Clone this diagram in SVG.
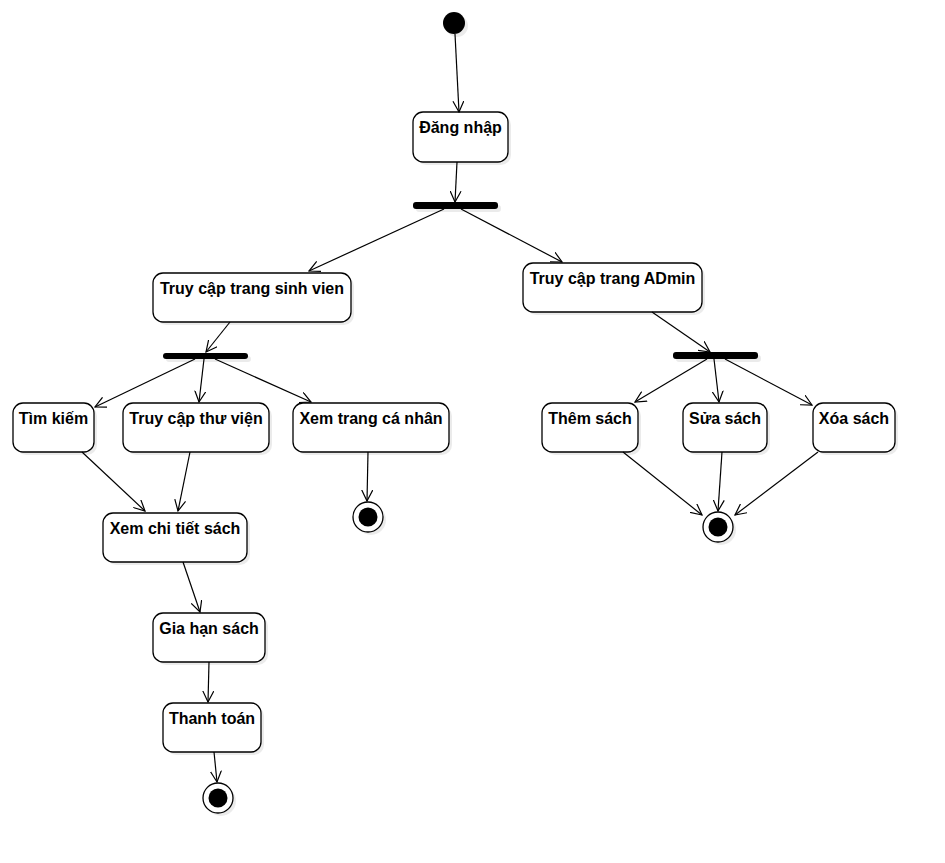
<svg xmlns="http://www.w3.org/2000/svg" width="945" height="863" viewBox="0 0 945 863">
<style>
.box{fill:#fff;stroke:#000;stroke-width:1.3}
.sh{fill:#000;opacity:0.08}
.bar{fill:#000}
.lbl{font-family:"Liberation Sans",Arial,sans-serif;font-weight:bold;font-size:16px;fill:#000;text-anchor:middle}
.edge{fill:none;stroke:#000;stroke-width:1.2;marker-end:url(#arr)}
</style>
<defs>
<marker id="arr" viewBox="0 0 12 12" refX="11" refY="6" markerWidth="12" markerHeight="12" markerUnits="userSpaceOnUse" orient="auto">
<path d="M0,0.5 L11,6 L0,11.5" fill="none" stroke="#000" stroke-width="1.2"/>
</marker>
</defs>
<rect width="945" height="863" fill="#fff"/>

<g id="start">
<circle class="sh" cx="457" cy="26" r="11"/>
<circle cx="454" cy="23" r="11" fill="#000"/>
</g>
<g id="dangnhap">
<rect class="sh" x="416" y="115" width="95" height="50" rx="10"/>
<rect class="box" x="413" y="112" width="95" height="50" rx="10"/>
<text class="lbl" x="460.5" y="133">Đăng nhập</text>
</g>
<g id="fork1">
<rect class="sh" x="416" y="205" width="85" height="7" rx="3"/>
<rect class="bar" x="413" y="202" width="85" height="7" rx="3"/>
</g>
<g id="sinhvien">
<rect class="sh" x="156" y="276" width="198" height="49" rx="10"/>
<rect class="box" x="153" y="273" width="198" height="49" rx="10"/>
<text class="lbl" x="252" y="294">Truy cập trang sinh vien</text>
</g>
<g id="admin">
<rect class="sh" x="526" y="266" width="179" height="49" rx="10"/>
<rect class="box" x="523" y="263" width="179" height="49" rx="10"/>
<text class="lbl" x="612.5" y="284">Truy cập trang ADmin</text>
</g>
<g id="fork2">
<rect class="sh" x="166" y="356" width="85" height="6" rx="3"/>
<rect class="bar" x="163" y="353" width="85" height="6" rx="3"/>
</g>
<g id="fork3">
<rect class="sh" x="676" y="355" width="85" height="7" rx="3"/>
<rect class="bar" x="673" y="352" width="85" height="7" rx="3"/>
</g>
<g id="timkiem">
<rect class="sh" x="16" y="406" width="81" height="49" rx="10"/>
<rect class="box" x="13" y="403" width="81" height="49" rx="10"/>
<text class="lbl" x="53.5" y="424">Tìm kiếm</text>
</g>
<g id="thuvien">
<rect class="sh" x="126" y="406" width="146" height="49" rx="10"/>
<rect class="box" x="123" y="403" width="146" height="49" rx="10"/>
<text class="lbl" x="196" y="424">Truy cập thư viện</text>
</g>
<g id="xemtrang">
<rect class="sh" x="296" y="406" width="156" height="49" rx="10"/>
<rect class="box" x="293" y="403" width="156" height="49" rx="10"/>
<text class="lbl" x="371" y="424">Xem trang cá nhân</text>
</g>
<g id="end1">
<circle class="sh" cx="371" cy="520" r="15"/>
<circle cx="368" cy="517" r="15" fill="#fff" stroke="#000" stroke-width="1.3"/>
<circle cx="368" cy="517" r="9.5" fill="#000"/>
</g>
<g id="chitiet">
<rect class="sh" x="106" y="516" width="144" height="49" rx="10"/>
<rect class="box" x="103" y="513" width="144" height="49" rx="10"/>
<text class="lbl" x="175" y="534">Xem chi tiết sách</text>
</g>
<g id="giahan">
<rect class="sh" x="156" y="616" width="112" height="49" rx="10"/>
<rect class="box" x="153" y="613" width="112" height="49" rx="10"/>
<text class="lbl" x="209" y="634">Gia hạn sách</text>
</g>
<g id="thanhtoan">
<rect class="sh" x="166" y="706" width="98" height="49" rx="10"/>
<rect class="box" x="163" y="703" width="98" height="49" rx="10"/>
<text class="lbl" x="212" y="724">Thanh toán</text>
</g>
<g id="end2">
<circle class="sh" cx="221" cy="801" r="15"/>
<circle cx="218" cy="798" r="15" fill="#fff" stroke="#000" stroke-width="1.3"/>
<circle cx="218" cy="798" r="9.5" fill="#000"/>
</g>
<g id="themsach">
<rect class="sh" x="545" y="406" width="96" height="49" rx="10"/>
<rect class="box" x="542" y="403" width="96" height="49" rx="10"/>
<text class="lbl" x="590" y="424">Thêm sách</text>
</g>
<g id="suasach">
<rect class="sh" x="686" y="406" width="84" height="49" rx="10"/>
<rect class="box" x="683" y="403" width="84" height="49" rx="10"/>
<text class="lbl" x="725" y="424">Sửa sách</text>
</g>
<g id="xoasach">
<rect class="sh" x="816" y="406" width="82" height="49" rx="10"/>
<rect class="box" x="813" y="403" width="82" height="49" rx="10"/>
<text class="lbl" x="854" y="424">Xóa sách</text>
</g>
<g id="end3">
<circle class="sh" cx="721" cy="530" r="15"/>
<circle cx="718" cy="527" r="15" fill="#fff" stroke="#000" stroke-width="1.3"/>
<circle cx="718" cy="527" r="9.5" fill="#000"/>
</g>

<g id="connectors">
<line class="edge" x1="455" y1="34" x2="459" y2="112"/>
<line class="edge" x1="457" y1="162" x2="455" y2="202"/>
<line class="edge" x1="444" y1="209" x2="309" y2="271"/>
<line class="edge" x1="461" y1="209" x2="562" y2="262"/>
<line class="edge" x1="230" y1="322" x2="206" y2="352"/>
<line class="edge" x1="195" y1="359" x2="95" y2="407"/>
<line class="edge" x1="204" y1="359" x2="199" y2="402"/>
<line class="edge" x1="215" y1="359" x2="311" y2="402"/>
<line class="edge" x1="652" y1="312" x2="710" y2="352"/>
<line class="edge" x1="707" y1="359" x2="635" y2="402"/>
<line class="edge" x1="714" y1="359" x2="719" y2="402"/>
<line class="edge" x1="725" y1="359" x2="812" y2="405"/>
<line class="edge" x1="623" y1="452" x2="702" y2="515"/>
<line class="edge" x1="722" y1="452" x2="718" y2="511"/>
<line class="edge" x1="818" y1="452" x2="735" y2="515"/>
<line class="edge" x1="82" y1="452" x2="145" y2="511"/>
<line class="edge" x1="190" y1="452" x2="178" y2="511"/>
<line class="edge" x1="368" y1="452" x2="367" y2="501"/>
<line class="edge" x1="183" y1="562" x2="200" y2="612"/>
<line class="edge" x1="209" y1="662" x2="208" y2="702"/>
<line class="edge" x1="214" y1="752" x2="217" y2="782"/>
</g>
</svg>
